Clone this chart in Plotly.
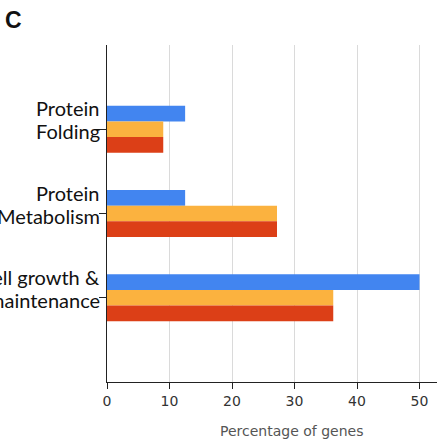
import plotly.graph_objects as go

categories = ["Protein Folding", "Protein Metabolism", "Cell growth & maintenance"]
label_line1 = ["Protein", "Protein", "Cell growth &"]
label_line2 = ["Folding", "Metabolism", "maintenance"]
series_names = ["Series A", "Series B", "Series C"]
blue_vals = [12.5, 12.5, 50.0]
orange_vals = [9.0, 27.2, 36.2]
red_vals = [9.0, 27.2, 36.2]
x_ticks = [0, 10, 20, 30, 40, 50]
x_title = "Percentage of genes"
panel_label = "C"

colors = ["#4285F0", "#FBB23F", "#DC3F17"]

fig = go.Figure()
for name, vals, col in zip(series_names, [blue_vals, orange_vals, red_vals], colors):
    fig.add_trace(go.Bar(y=categories, x=vals, orientation="h", name=name,
                         marker=dict(color=col, line=dict(width=0))))

fig.update_layout(
    width=441, height=443,
    margin=dict(l=107, r=4, t=45, b=61),
    barmode="group", bargap=0.44, bargroupgap=0,
    showlegend=False,
    plot_bgcolor="white", paper_bgcolor="white",
    font=dict(family="Lato, Arial, sans-serif", color="#111"),
)
fig.update_yaxes(
    type="category", categoryorder="array", categoryarray=categories,
    range=[3, -1], showline=True, linecolor="#222", linewidth=1.3,
    ticks="outside", ticklen=7, tickcolor="#222", tickwidth=1.3,
    showticklabels=False,
    showgrid=False, zeroline=False, automargin=False,
)
fig.update_xaxes(
    range=[0, 52.8], tickvals=x_ticks, showline=True, linecolor="#222", linewidth=1.3,
    ticks="outside", ticklen=6, tickcolor="#222", tickwidth=1.3,
    showgrid=True, gridcolor="#DADADA", gridwidth=1.3, zeroline=False,
    tickfont=dict(family="DejaVu Sans, Arial, sans-serif", size=14, color="#333"),
    automargin=False,
)
# two-line category labels
for cat, l1, l2 in zip(categories, label_line1, label_line2):
    for txt, ys in [(l1, 21), (l2, -2)]:
        fig.add_annotation(text=txt, x=0, y=cat, xref="x", yref="y", showarrow=False,
                           xanchor="right", yanchor="middle", xshift=-5, yshift=ys,
                           font=dict(family="Lato, Arial, sans-serif", size=20, color="#111"))
# end ticks on the y axis
for yv in [0, 1]:
    fig.add_shape(type="line", xref="x", yref="paper", xsizemode="pixel", xanchor=0,
                  x0=-9, x1=0, y0=yv, y1=yv, line=dict(color="#222", width=1.3))
fig.add_annotation(text=x_title, xref="paper", yref="paper", x=0.56, y=-0.145,
                   showarrow=False, font=dict(family="DejaVu Sans, Arial, sans-serif", size=14, color="#555"),
                   xanchor="center", yanchor="middle")
fig.add_annotation(text="<b>" + panel_label + "</b>", xref="paper", yref="paper",
                   x=-0.315, y=1.074, showarrow=False, xanchor="left", yanchor="middle",
                   font=dict(family="Arial, sans-serif", size=23, color="#111"))
fig.write_html("out.html", config={"displayModeBar": False},
               post_script="document.body.style.margin='0';")
